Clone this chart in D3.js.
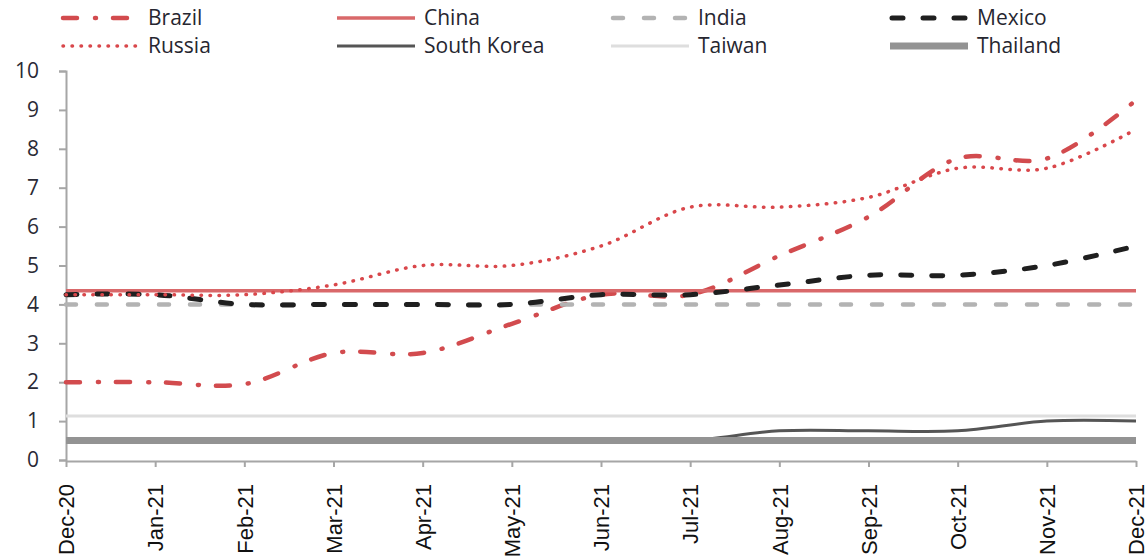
<!DOCTYPE html>
<html>
<head>
<meta charset="utf-8">
<script src="https://cdn.jsdelivr.net/npm/d3@7"></script>
<style>
  body { margin: 0; background: #fff; }
  svg { display: block; }
</style>
</head>
<body>
<div id="chart"></div>
<script>
const months = ["Dec-20", "Jan-21", "Feb-21", "Mar-21", "Apr-21", "May-21", "Jun-21",
                "Jul-21", "Aug-21", "Sep-21", "Oct-21", "Nov-21", "Dec-21"];

const brazil     = [2.0, 2.0, 1.95, 2.75, 2.75, 3.5, 4.25, 4.25, 5.25, 6.25, 7.75, 7.75, 9.25];
const china      = [4.35, 4.35, 4.35, 4.35, 4.35, 4.35, 4.35, 4.35, 4.35, 4.35, 4.35, 4.35, 4.35];
const india      = [4.0, 4.0, 4.0, 4.0, 4.0, 4.0, 4.0, 4.0, 4.0, 4.0, 4.0, 4.0, 4.0];
const mexico     = [4.25, 4.25, 4.0, 4.0, 4.0, 4.0, 4.25, 4.25, 4.5, 4.75, 4.75, 5.0, 5.5];
const russia     = [4.25, 4.25, 4.25, 4.5, 5.0, 5.0, 5.5, 6.5, 6.5, 6.75, 7.5, 7.5, 8.5];
const southKorea = [0.5, 0.5, 0.5, 0.5, 0.5, 0.5, 0.5, 0.5, 0.75, 0.75, 0.75, 1.0, 1.0];
const taiwan     = [1.13, 1.13, 1.13, 1.13, 1.13, 1.13, 1.13, 1.13, 1.13, 1.13, 1.13, 1.13, 1.13];
const thailand   = [0.5, 0.5, 0.5, 0.5, 0.5, 0.5, 0.5, 0.5, 0.5, 0.5, 0.5, 0.5, 0.5];

const yTicks = [0, 1, 2, 3, 4, 5, 6, 7, 8, 9, 10];

const series = [
  {name: "Brazil",      values: brazil,     color: "#d24b4e", width: 4.5, dash: "14,18,1,17", cap: "round"},
  {name: "China",       values: china,      color: "#d9686a", width: 3.5, dash: null,         cap: "butt"},
  {name: "India",       values: india,      color: "#b3b3b3", width: 4.5, dash: "10,21",      cap: "round"},
  {name: "Mexico",      values: mexico,     color: "#1f1f1f", width: 5,   dash: "11,20",      cap: "round"},
  {name: "Russia",      values: russia,     color: "#d9474b", width: 3.5, dash: "0.5,8.5",    cap: "round"},
  {name: "South Korea", values: southKorea, color: "#555555", width: 3,   dash: null,         cap: "butt"},
  {name: "Taiwan",      values: taiwan,     color: "#dedede", width: 3,   dash: null,         cap: "butt"},
  {name: "Thailand",    values: thailand,   color: "#939393", width: 7,   dash: null,         cap: "butt"}
];

const W = 1147, H = 557;
const svg = d3.select("#chart").append("svg")
    .attr("width", W)
    .attr("height", H);

const x = d3.scalePoint()
    .domain(months)
    .range([66, 1136]);
const y = d3.scaleLinear()
    .domain([0, 10])
    .range([460, 71]);

// axe Y
const yAxis = svg.append("g")
    .attr("transform", "translate(66,0)")
    .call(d3.axisLeft(y).tickValues(yTicks).tickSize(7).tickPadding(20).tickFormat(d3.format("d")));
yAxis.select(".domain").attr("stroke", "#a6a6a6").attr("stroke-width", 2);
yAxis.selectAll(".tick line").attr("stroke", "#a6a6a6").attr("stroke-width", 2);
yAxis.selectAll(".tick text")
    .attr("font-family", "'Open Sans', 'Noto Sans', sans-serif")
    .attr("font-size", 21)
    .attr("fill", "#2a2a35");

// axe X
const xAxis = svg.append("g")
    .attr("transform", "translate(0,461)")
    .call(d3.axisBottom(x).tickSize(6).tickSizeOuter(0));
xAxis.select(".domain").attr("stroke", "#a6a6a6").attr("stroke-width", 2);
xAxis.selectAll(".tick line").attr("stroke", "#a6a6a6").attr("stroke-width", 2);
xAxis.selectAll(".tick text")
    .attr("font-family", "'Liberation Sans', Arial, sans-serif")
    .attr("font-size", 22)
    .attr("fill", "#111")
    .attr("text-anchor", "end")
    .attr("transform", "rotate(-90)")
    .attr("x", -23)
    .attr("y", 0)
    .attr("dy", "0.35em");

// lignes lissées
const line = d3.line()
    .x((d, i) => x(months[i]))
    .y(d => y(d))
    .curve(d3.curveCatmullRom.alpha(0.5));

svg.append("g").selectAll("path")
    .data(series)
    .enter().append("path")
    .attr("d", d => line(d.values))
    .attr("fill", "none")
    .attr("stroke", d => d.color)
    .attr("stroke-width", d => d.width)
    .attr("stroke-dasharray", d => d.dash)
    .attr("stroke-linecap", d => d.cap);

// légende
const colX = [61, 337, 611, 890];
const rowY = [18, 46];
const legend = svg.append("g").selectAll("g")
    .data(series)
    .enter().append("g")
    .attr("transform", (d, i) => `translate(${colX[i % 4]},${rowY[Math.floor(i / 4)]})`);

legend.append("line")
    .attr("x1", d => d.cap === "round" ? 2 : 0)
    .attr("x2", d => d.cap === "round" ? 76 : 78)
    .attr("y1", 0).attr("y2", 0)
    .attr("stroke", d => d.color)
    .attr("stroke-width", d => d.width)
    .attr("stroke-dasharray", d => d.dash)
    .attr("stroke-linecap", d => d.cap);

legend.append("text")
    .attr("x", 87)
    .attr("y", 0)
    .attr("dy", "0.35em")
    .attr("font-family", "'Open Sans', 'Noto Sans', sans-serif")
    .attr("font-size", 21)
    .attr("fill", "#262630")
    .text(d => d.name);
</script>
</body>
</html>
